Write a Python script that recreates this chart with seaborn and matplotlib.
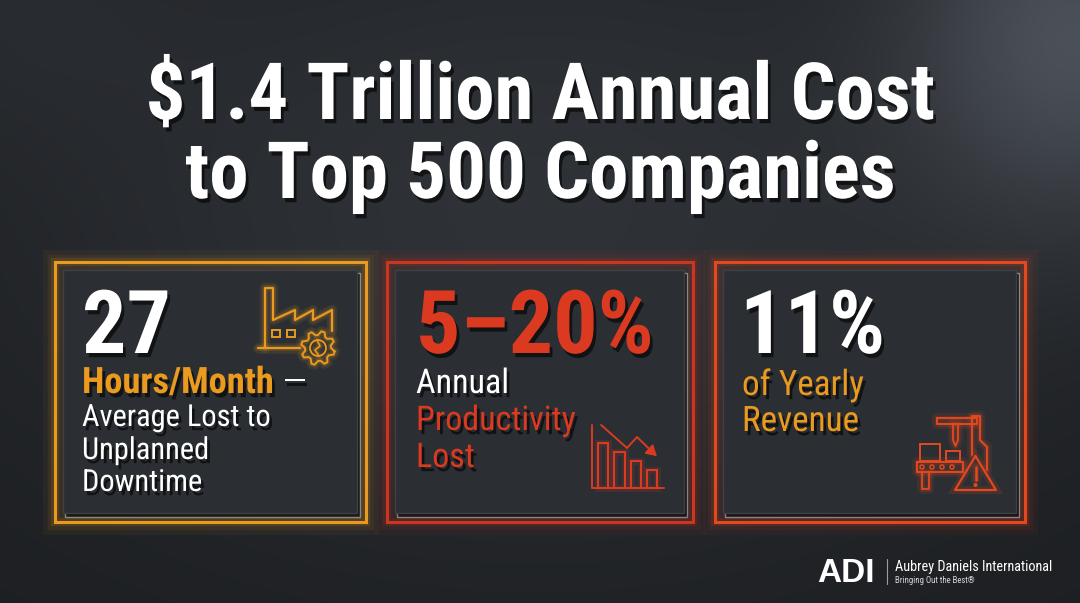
import numpy as np
import pandas as pd
import matplotlib
matplotlib.use("Agg")
import matplotlib.pyplot as plt
import matplotlib.patheffects as pe
from matplotlib.patches import Rectangle, Circle, Polygon
import seaborn as sns

# --- content -------------------------------------------------------------
title_lines = ["$1.4 Trillion Annual Cost", "to Top 500 Companies"]
stat_values = ["27", "5\u201320%", "11%"]
card1_caption = ["Hours/Month", "Average Lost to", "Unplanned", "Downtime"]
card2_caption = ["Annual", "Productivity", "Lost"]
card3_caption = ["of Yearly", "Revenue"]
icon_bar_labels = ["a", "b", "c", "d"]
icon_bar_heights = [45, 36, 27, 18]   # falling bars in the productivity icon
logo_name = "ADI"
logo_lines = ["Aubrey Daniels International", "Bringing Out the Best\u00ae"]

ORANGE = "#e99a1f"
RED = "#dc3a20"
RED_ORANGE = "#e4481f"
WHITE = "#ffffff"
FONT = ["Roboto Condensed", "Roboto", "DejaVu Sans"]

sns.set_theme(style="dark")
plt.rcParams["font.family"] = FONT

W, H = 1080, 603
fig = plt.figure(figsize=(W / 100, H / 100), dpi=100)
ax = fig.add_axes([0, 0, 1, 1])
ax.set_xlim(0, W)
ax.set_ylim(H, 0)
ax.set_axis_off()
fig.canvas.draw()
renderer = fig.canvas.get_renderer()


def fit_size(s, width, **kw):
    # font size that makes string s span the given pixel width
    t = ax.text(0, 0, s, fontsize=50, parse_math=False, **kw)
    w = t.get_window_extent(renderer=renderer).width
    t.remove()
    return 50 * width / w


# background: dark blue-charcoal with a soft light streak top right
yy, xx = np.mgrid[0:1:H * 1j, 0:1:W * 1j]
v = (0.115 + 0.075 * np.exp(-((xx - 0.5) ** 2 / 0.25 + (yy - 0.35) ** 2 / 0.3))
     + 0.17 * np.exp(-((xx - 1.0) ** 2 / 0.025 + (yy - 0.05) ** 2 / 0.10))
     + 0.03 * np.exp(-((xx - 0.0) ** 2 / 0.03 + (yy - 0.0) ** 2 / 0.05)))
rgb = np.clip(np.dstack([v * 0.96, v * 1.03, v * 1.13]), 0, 1)
ax.imshow(rgb, extent=[0, W, H, 0], aspect="auto", zorder=0)

shadow = [pe.withSimplePatchShadow(offset=(2, -3), shadow_rgbFace="black", alpha=0.6)]

# title
title_fs = fit_size(title_lines[0], 790, fontweight="bold")
for line, y in zip(title_lines, [119, 198]):
    ax.text(540, y, line, ha="center", va="baseline", color=WHITE, fontsize=title_fs,
            fontweight="bold", parse_math=False, path_effects=shadow, zorder=5)


def glow_line(xs, ys, color, lw=1.6, z=6):
    ax.plot(xs, ys, color=color, lw=lw + 6, alpha=0.10, solid_capstyle="round", zorder=z)
    ax.plot(xs, ys, color=color, lw=lw + 2.5, alpha=0.18, solid_capstyle="round", zorder=z)
    ax.plot(xs, ys, color=color, lw=lw, solid_capstyle="round", solid_joinstyle="round", zorder=z + 0.1)


def card(x0, y0, x1, y1, color):
    for lw, a in [(18, 0.05), (11, 0.08), (6, 0.14)]:
        ax.add_patch(Rectangle((x0, y0), x1 - x0, y1 - y0, fill=False, ec=color, lw=lw, alpha=a, zorder=2))
    ax.add_patch(Rectangle((x0, y0), x1 - x0, y1 - y0, fill=False, ec=color, lw=2.2, zorder=3))
    # inner panel with drop shadow
    ax.add_patch(Rectangle((x0 + 10, y0 + 11), x1 - x0 - 16, y1 - y0 - 16, fc="black", alpha=0.45, zorder=3))
    ax.add_patch(Rectangle((x0 + 8, y0 + 8), x1 - x0 - 17, y1 - y0 - 17, fc="#2b2f34", ec="#3d4147", lw=1, zorder=4))


card(55, 262, 366, 522, ORANGE)
card(387, 262, 693, 522, "#cc3520")
card(715, 262, 1025, 522, RED_ORANGE)

big_fs = fit_size(stat_values[1], 238, fontweight="bold")
big_kw = dict(va="baseline", fontsize=big_fs, fontweight="bold", path_effects=shadow, zorder=7)
ax.text(82, 353, stat_values[0], color=WHITE, **big_kw)
ax.text(416, 353, stat_values[1], color=RED, **big_kw)
ax.text(740, 353, stat_values[2], color=WHITE, **big_kw)

cap_fs = fit_size(card1_caption[1], 189)
cap_kw = dict(va="baseline", fontsize=cap_fs, path_effects=shadow, zorder=7)

# card 1 caption
hm_fs = fit_size(card1_caption[0], 192, fontweight="bold")
t = ax.text(82, 393, card1_caption[0], color=ORANGE, fontweight="bold", fontsize=hm_fs,
            va="baseline", path_effects=shadow, zorder=7)
bb = t.get_window_extent(renderer=renderer)
xe = ax.transData.inverted().transform((bb.x1, bb.y0))[0]
ax.text(xe + 8, 393, "\u2014", color=WHITE, va="baseline", fontsize=cap_fs * 1.2,
        path_effects=shadow, zorder=7)
for line, y in zip(card1_caption[1:], [426, 459, 491]):
    ax.text(82, y, line, color=WHITE, **cap_kw)

# card 2 caption
cap2_fs = fit_size(card2_caption[1], 160)
for line, y, c in zip(card2_caption, [393, 430, 467], [WHITE, RED, RED]):
    ax.text(416, y, line, color=c, fontsize=cap2_fs, va="baseline", path_effects=shadow, zorder=7)

# card 3 caption
cap3_fs = fit_size(card3_caption[1], 117)
for line, y in zip(card3_caption, [395, 431]):
    ax.text(742, y, line, color=ORANGE, fontsize=cap3_fs, va="baseline", path_effects=shadow, zorder=7)

# --- icon: factory with gear (card 1) ---
glow_line([258, 300], [348, 348], ORANGE)
glow_line([265, 265, 273, 273, 295, 295, 313, 313, 332, 332],
          [348, 288, 288, 320, 310, 320, 310, 320, 310, 331], ORANGE)
for wx in [272, 287]:
    ax.add_patch(Rectangle((wx, 330), 8, 7, fill=False, ec=ORANGE, lw=1.4, zorder=6))
gc = (318, 348)
ang = np.linspace(0, 2 * np.pi, 8 * 4, endpoint=False)
rad = np.where((np.arange(ang.size) // 2) % 2 == 0, 17, 13)
gx = gc[0] + rad * np.cos(ang + 0.2)
gy = gc[1] + rad * np.sin(ang + 0.2)
glow_line(np.append(gx, gx[0]), np.append(gy, gy[0]), ORANGE, lw=1.4)
ax.add_patch(Circle(gc, 8, fill=False, ec=ORANGE, lw=1.3, zorder=6))
glow_line([317, 320, 315, 319], [340, 346, 350, 356], ORANGE, lw=1.2)

# --- icon: falling bar chart (card 2), drawn with seaborn on an inset ---
ix0, ix1, iy0, iy1 = 588, 668, 418, 492
iax = fig.add_axes([ix0 / W, 1 - iy1 / H, (ix1 - ix0) / W, (iy1 - iy0) / H])
bars = pd.DataFrame({"bar": icon_bar_labels, "height": icon_bar_heights})
sns.barplot(data=bars, x="bar", y="height", ax=iax, fill=False, color=RED,
            linewidth=5, alpha=0.15, width=0.62)
sns.barplot(data=bars, x="bar", y="height", ax=iax, fill=False, color=RED,
            linewidth=1.5, width=0.62)
iax.set_xlim(-0.92, 3.96)
iax.set_ylim(-4, 70)
iax.set_axis_off()
iax.plot([-0.67, -0.67, 3.7], [63, 0, 0], color=RED, lw=1.4)
iax.plot([-0.12, 1.46, 2.07, 3.2], [63, 40, 51, 33], color=RED, lw=1.4)
iax.annotate("", xy=(3.4, 30), xytext=(3.0, 36),
             arrowprops=dict(arrowstyle="-|>,head_length=0.5,head_width=0.3", color=RED, lw=1.4))

# --- icon: machine with warning (card 3) ---
C = RED_ORANGE
glow_line([937, 977, 977, 937, 937], [418, 418, 424, 424, 418], C, lw=1.4)
glow_line([972, 972, 980, 980, 987, 987], [455, 416, 416, 440, 447, 470], C, lw=1.4)
glow_line([953, 958, 958, 955.5, 953, 953], [424, 424, 440, 446, 440, 424], C, lw=1.3)
ax.add_patch(Rectangle((920, 444), 20, 17, fill=False, ec=C, lw=1.4, zorder=6))
ax.add_patch(Rectangle((946, 451), 14, 10, fill=False, ec=C, lw=1.4, zorder=6))
glow_line([917, 963, 963, 917, 917], [462, 462, 472, 472, 462], C, lw=1.4)
for cx in [922, 932, 942, 952]:
    ax.add_patch(Circle((cx, 467), 2, fill=False, ec=C, lw=1.1, zorder=6))
glow_line([922, 922, 929, 929], [472, 489, 489, 472], C, lw=1.3)
ax.add_patch(Polygon([(955, 490), (996, 490), (975.5, 456)], closed=True, fill=False,
                     ec=C, lw=1.6, joinstyle="round", zorder=7))
ax.add_patch(Polygon([(955, 490), (996, 490), (975.5, 456)], closed=True, fill=False,
                     ec=C, lw=6, alpha=0.15, zorder=6))
glow_line([975.5, 975.5], [467, 480], C, lw=1.8)
ax.add_patch(Circle((975.5, 485), 1.3, fc=C, ec=C, zorder=7))

# --- logo ---
ax.text(817, 582, logo_name, color=WHITE, fontsize=24, fontweight="bold",
        family=["Liberation Sans", "DejaVu Sans"], va="baseline", zorder=7)
ax.plot([887, 887], [559, 584], color="#9a9ca0", lw=0.8, zorder=7)
ax.text(895, 571, logo_lines[0], color=WHITE, fontsize=fit_size(logo_lines[0], 159),
        va="baseline", zorder=7)
ax.text(895, 583, logo_lines[1], color="#d8d8d8", fontsize=fit_size(logo_lines[1], 80),
        va="baseline", zorder=7)

fig.savefig("out.png", dpi=100)
